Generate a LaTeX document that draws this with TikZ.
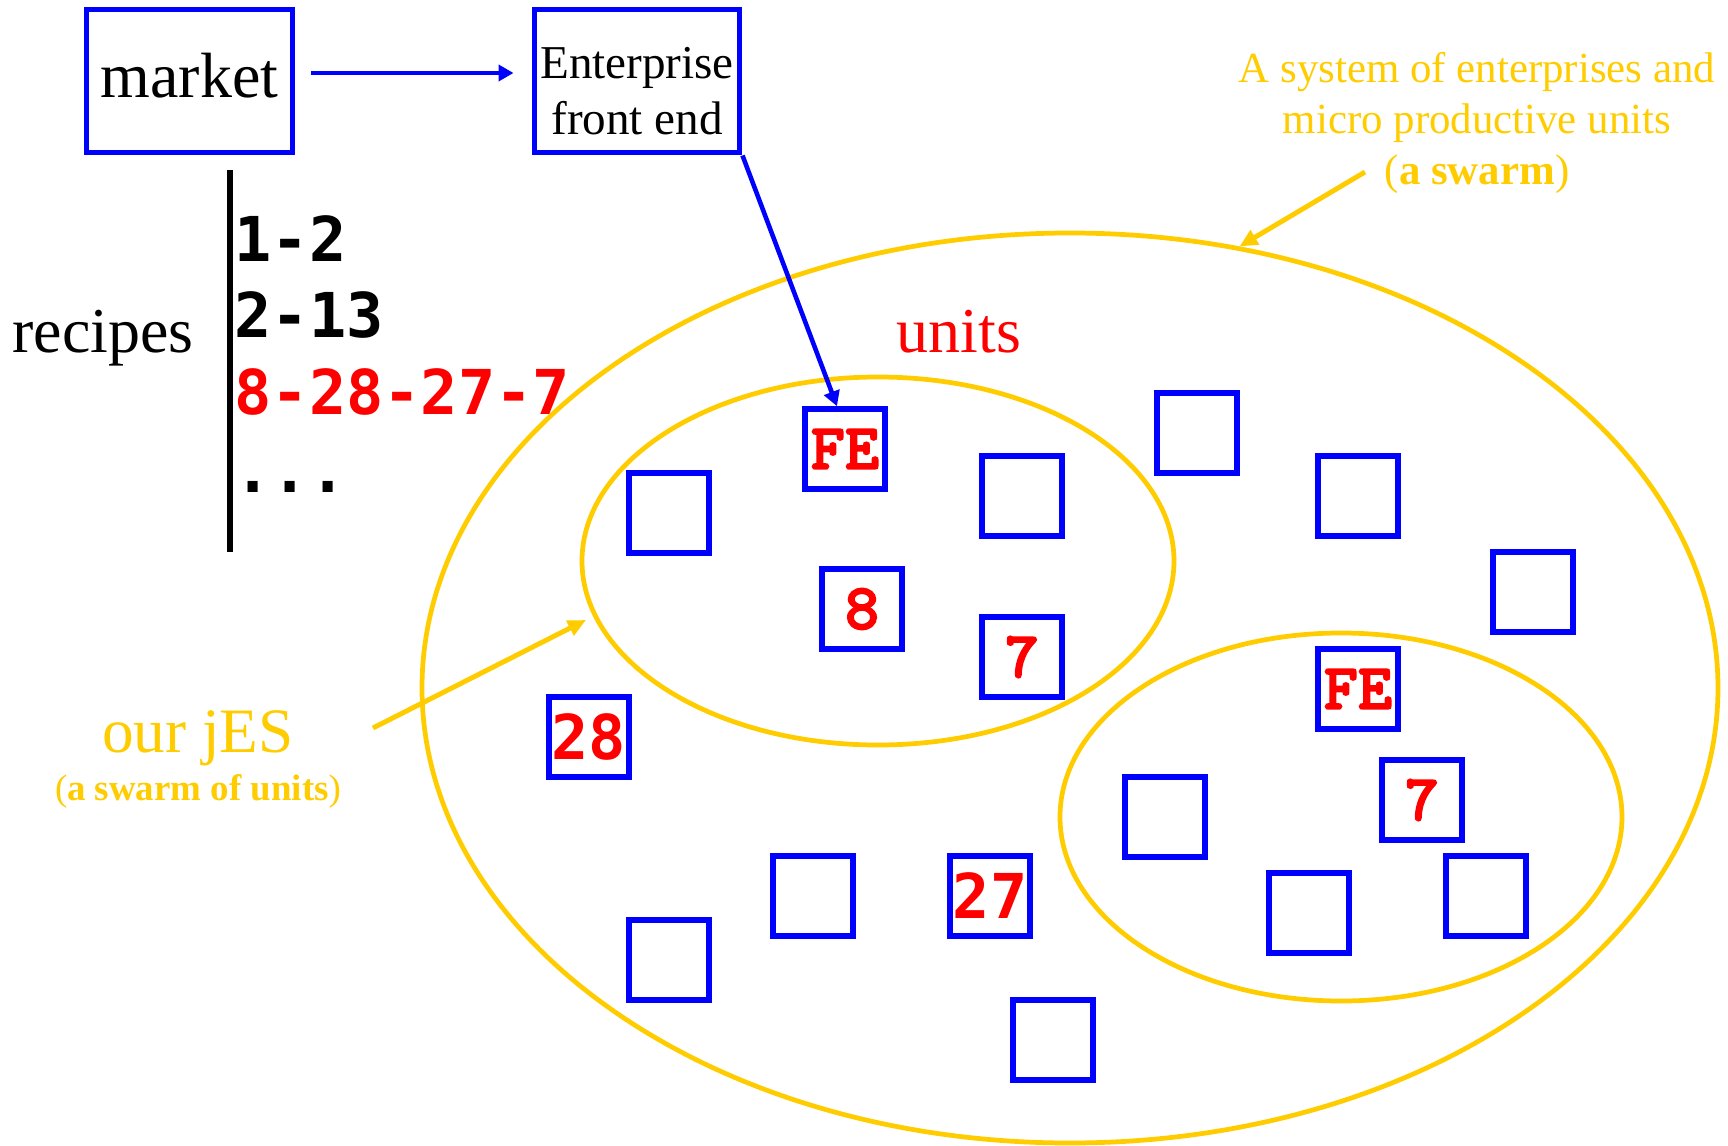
\documentclass[tikz,border=0pt]{standalone}
\usepackage{fontspec}
\setmainfont{Liberation Serif}
\newfontfamily\courmono{lmmonolt10-bold}[Extension=.otf, FakeBold=2.5]
\newfontfamily\lucmono{DejaVu Sans Mono}
\usetikzlibrary{arrows.meta,shapes.geometric}
\definecolor{swarmyellow}{RGB}{255,204,0}
\newcommand{\feface}{\courmono\fontsize{18.5}{18.5}\selectfont}
\newcommand{\recipeface}{\lucmono\bfseries\fontsize{17.6}{17.6}\selectfont}
\tikzset{
  bigbox/.style={draw=blue, line width=1.7pt, inner sep=0pt, minimum width=2.06cm, minimum height=1.43cm},
  unitbox/.style={draw=blue, line width=1.6pt, inner sep=0pt, minimum size=0.8cm, text=red},
  swarmline/.style={ellipse, draw=swarmyellow, line width=1.35pt, inner sep=0pt},
  bluearrow/.style={blue, line width=1.3pt, -{Triangle[length=0.15cm,width=0.16cm]}},
  yellowarrow/.style={swarmyellow, line width=1.4pt, -{Triangle[length=0.18cm,width=0.16cm]}}
}
\begin{document}
\begin{tikzpicture}
\useasboundingbox (0,0) rectangle (17.28,-11.46);
% the swarm and the two smaller swarms
\node[swarmline, minimum width=12.96cm, minimum height=9.10cm] (swarm) at (10.70,-6.88) {};
\node[swarmline, minimum width=5.92cm, minimum height=3.68cm] (jes) at (8.78,-5.61) {};
\node[swarmline, minimum width=5.62cm, minimum height=3.68cm] (other) at (13.41,-8.17) {};
% market and front end
\node[bigbox, text depth=0.12cm, font=\fontsize{18.2}{22}\selectfont] (market) at (1.895,-0.81) {market};
\node[bigbox, minimum width=2.05cm] (front) at (6.37,-0.81) {};
\node[align=center, inner sep=0pt, font=\fontsize{13.4}{16}\selectfont] (fronttext) at ([yshift=-0.10cm]front.center) {Enterprise\\front end};
\draw[bluearrow, shorten <=0.16cm, shorten >=0.18cm] ([yshift=0.08cm]market.east) -- ([yshift=0.08cm]front.west);
% recipes
\node[anchor=base, font=\fontsize{18.2}{22}\selectfont] (recipes) at (1.03,-3.52) {recipes};
\coordinate (bartop) at (2.30,-1.70);
\coordinate (barbottom) at (2.30,-5.52);
\draw[line width=1.6pt] (bartop) -- (barbottom);
\node[anchor=base west, inner sep=0pt, font=\recipeface] (recipeA) at (2.34,-2.61) {1-2};
\node[anchor=base west, inner sep=0pt, font=\recipeface] (recipeB) at (2.34,-3.37) {2-13};
\node[anchor=base west, inner sep=0pt, font=\recipeface, text=red] (recipeC) at (2.34,-4.14) {8-28-27-7};
\node[anchor=base west, inner sep=0pt, font=\recipeface] (recipeD) at (2.34,-4.92) {...};
% units
\node[anchor=base, text=red, font=\fontsize{18.2}{22}\selectfont] (units) at (9.59,-3.52) {units};
\node[unitbox, font=\feface] (feA) at (8.45,-4.49) {FE};
\node[unitbox] (uA) at (6.69,-5.13) {};
\node[unitbox] (uB) at (10.22,-4.96) {};
\node[unitbox] (uC) at (11.97,-4.33) {};
\node[unitbox] (uD) at (13.58,-4.96) {};
\node[unitbox] (uE) at (15.33,-5.92) {};
\node[unitbox, font=\feface] (eight) at (8.62,-6.09) {8};
\node[unitbox, font=\feface] (sevenA) at (10.22,-6.57) {7};
\node[unitbox, font=\recipeface] (twentyeight) at (5.89,-7.37) {28};
\node[unitbox, font=\feface] (feB) at (13.58,-6.89) {FE};
\node[unitbox, font=\feface] (sevenB) at (14.22,-8.00) {7};
\node[unitbox] (uF) at (11.65,-8.17) {};
\node[unitbox] (uG) at (8.13,-8.96) {};
\node[unitbox, font=\recipeface] (twentyseven) at (9.90,-8.96) {27};
\node[unitbox] (uH) at (14.86,-8.96) {};
\node[unitbox] (uI) at (13.09,-9.13) {};
\node[unitbox] (uJ) at (6.69,-9.60) {};
\node[unitbox] (uK) at (10.53,-10.40) {};
\draw[bluearrow] (front.south east) -- ([xshift=-0.08cm]feA.north);
% yellow notes
\node[text=swarmyellow, align=center, font=\fontsize{12.2}{14.5}\selectfont] (swarmnote) at (14.77,-1.23) {A system of enterprises and\\micro productive units\\(\textbf{a swarm})};
\coordinate (swarmtail) at (13.65,-1.72);
\draw[yellowarrow] (swarmtail) -- (swarm.69);
\node[anchor=base, text=swarmyellow, font=\fontsize{18}{20}\selectfont] (jeslabel) at (1.98,-7.52) {our jES};
\node[anchor=base, text=swarmyellow, font=\fontsize{10.5}{12}\selectfont] (jesnote) at (1.98,-8.00) {(\textbf{a swarm of units})};
\coordinate (jestail) at (3.73,-7.28);
\draw[yellowarrow, shorten >=0.08cm] (jestail) -- (jes.191);
\end{tikzpicture}
\end{document}
